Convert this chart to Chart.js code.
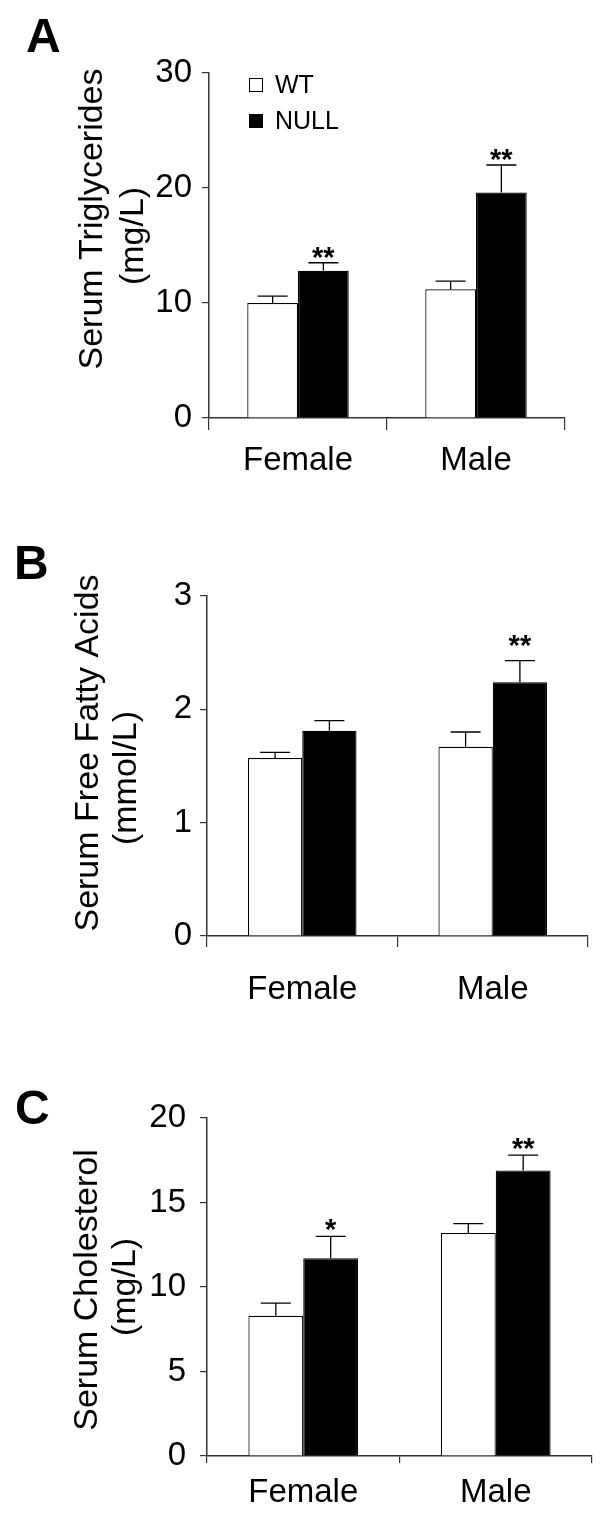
<!DOCTYPE html>
<html><head><meta charset="utf-8">
<script src="https://cdn.jsdelivr.net/npm/chart.js@4/dist/chart.umd.min.js"></script>
<style>
html,body{margin:0;padding:0;background:#fff;}
body{width:606px;height:1532px;position:relative;overflow:hidden;}
canvas{position:absolute;left:0;}
</style></head><body>
<canvas id="cA" width="606" height="500" style="top:0px;width:606px;height:500px"></canvas>
<canvas id="cB" width="606" height="510" style="top:500px;width:606px;height:510px"></canvas>
<canvas id="cC" width="606" height="522" style="top:1010px;width:606px;height:522px"></canvas>
<script>
// ---------- data ----------
const categories = ['Female', 'Male'];
const seriesLabels = ['WT', 'NULL'];

const trigWT = [10.0, 11.2];
const trigNULL = [12.8, 19.6];
const trigWTErr = [0.6, 0.7];
const trigNULLErr = [0.7, 2.4];
const trigWTSig = ['', ''];
const trigNULLSig = ['**', '**'];
const trigTicks = [0, 10, 20, 30];

const ffaWT = [1.57, 1.67];
const ffaNULL = [1.81, 2.24];
const ffaWTErr = [0.05, 0.13];
const ffaNULLErr = [0.09, 0.19];
const ffaWTSig = ['', ''];
const ffaNULLSig = ['', '**'];
const ffaTicks = [0, 1, 2, 3];

const cholWT = [8.3, 13.2];
const cholNULL = [11.7, 16.9];
const cholWTErr = [0.75, 0.55];
const cholNULLErr = [1.3, 0.9];
const cholWTSig = ['', ''];
const cholNULLSig = ['*', '**'];
const cholTicks = [0, 5, 10, 15, 20];

// ---------- drawing ----------
const FAM = '"Liberation Sans", Arial, Helvetica, sans-serif';
const AXIS = '#333';

const decoPlugin = {
  id: 'deco',
  afterDatasetsDraw(chart) {
    const o = chart.options.plugins.deco;
    const ctx = chart.ctx;
    const ys = chart.scales.y;
    ctx.save();
    chart.data.datasets.forEach((ds, di) => {
      const meta = chart.getDatasetMeta(di);
      meta.data.forEach((el, i) => {
        const v = ds.data[i], e = ds.errors[i];
        const yTop = ys.getPixelForValue(v + e);
        ctx.strokeStyle = '#000';
        ctx.lineWidth = 1.3;
        ctx.beginPath();
        ctx.moveTo(el.x, el.y);
        ctx.lineTo(el.x, yTop);
        ctx.moveTo(el.x - 15, yTop);
        ctx.lineTo(el.x + 15, yTop);
        ctx.stroke();
        const s = ds.sig[i];
        if (s) {
          ctx.fillStyle = '#000';
          ctx.font = 'bold 29px ' + FAM;
          ctx.textAlign = 'center';
          ctx.textBaseline = 'alphabetic';
          ctx.fillText(s, el.x, yTop - o.starGap + 13);
        }
      });
    });
    ctx.restore();
  },
  afterDraw(chart) {
    const o = chart.options.plugins.deco;
    const ctx = chart.ctx;
    ctx.save();
    // panel letter
    ctx.fillStyle = '#000';
    ctx.font = 'bold 48px ' + FAM;
    ctx.textAlign = 'left';
    ctx.textBaseline = 'alphabetic';
    ctx.fillText(o.letter, o.letterX, o.letterY);
    // y titles
    ctx.font = '34px ' + FAM;
    ctx.textAlign = 'center';
    o.titles.forEach(t => {
      ctx.save();
      ctx.translate(t.x, t.y);
      ctx.rotate(-Math.PI / 2);
      ctx.fillText(t.text, 0, 0);
      ctx.restore();
    });
    // legend
    if (o.legend) {
      const L = o.legend;
      ctx.font = '25px ' + FAM;
      ctx.textAlign = 'left';
      ctx.textBaseline = 'middle';
      chart.data.datasets.forEach((ds, di) => {
        const cy = L.y + di * L.gap;
        ctx.fillStyle = ds.backgroundColor;
        ctx.fillRect(L.x, cy - 7, 14, 14);
        ctx.strokeStyle = '#000';
        ctx.lineWidth = 1;
        ctx.strokeRect(L.x + 0.5, cy - 6.5, 13, 13);
        ctx.fillStyle = '#000';
        ctx.fillText(ds.label, L.x + 26, cy + 1);
      });
    }
    ctx.restore();
  }
};

function makePanel(id, p) {
  const xh = 70;
  new Chart(document.getElementById(id), {
    type: 'bar',
    data: {
      labels: categories,
      datasets: [
        { label: seriesLabels[0], data: p.wt, errors: p.wtErr, sig: p.wtSig,
          backgroundColor: '#ffffff', borderColor: '#000', borderWidth: 1.2 },
        { label: seriesLabels[1], data: p.nul, errors: p.nulErr, sig: p.nulSig,
          backgroundColor: '#000000', borderColor: '#000', borderWidth: 1.2 }
      ]
    },
    options: {
      responsive: false,
      animation: false,
      devicePixelRatio: 1,
      categoryPercentage: 0.57,
      barPercentage: 1.0,
      layout: { padding: { left: 0, top: p.T, right: 606 - p.R, bottom: p.H - p.B - xh } },
      plugins: {
        legend: { display: false },
        tooltip: { enabled: false },
        deco: p.deco
      },
      scales: {
        x: {
          type: 'category',
          offset: true,
          grid: { display: true, drawOnChartArea: false, drawTicks: true, tickLength: p.xTick,
                  offset: true, color: AXIS, lineWidth: 1.2 },
          border: { display: true, color: AXIS, width: 1.5 },
          ticks: { font: { size: 33, family: FAM }, color: '#000', padding: p.xPad,
                   maxRotation: 0, autoSkip: false },
          afterFit(s) { s.height = xh; }
        },
        y: {
          min: p.ticks[0],
          max: p.ticks[p.ticks.length - 1],
          grid: { display: true, drawOnChartArea: false, tickLength: 7, color: AXIS, lineWidth: 1.2 },
          border: { display: true, color: AXIS, width: 1.5 },
          ticks: { font: { size: 33, family: FAM }, color: '#000', padding: p.yPad },
          afterBuildTicks(s) { s.ticks = p.ticks.map(v => ({ value: v })); },
          afterFit(s) { s.width = p.L; }
        }
      }
    },
    plugins: [decoPlugin]
  });
}

makePanel('cA', {
  wt: trigWT, nul: trigNULL, wtErr: trigWTErr, nulErr: trigNULLErr, wtSig: trigWTSig, nulSig: trigNULLSig,
  ticks: trigTicks, H: 500, L: 209, R: 565, T: 73, B: 418, xTick: 12, xPad: 11, yPad: 10,
  deco: { letter: 'A', letterX: 26, letterY: 52, starGap: 9,
    titles: [{ text: 'Serum Triglycerides', x: 102, y: 219 }, { text: '(mg/L)', x: 143, y: 236 }],
    legend: { x: 249, y: 85, gap: 36 } }
});
makePanel('cB', {
  wt: ffaWT, nul: ffaNULL, wtErr: ffaWTErr, nulErr: ffaNULLErr, wtSig: ffaWTSig, nulSig: ffaNULLSig,
  ticks: ffaTicks, H: 510, L: 207, R: 588, T: 96, B: 436, xTick: 11, xPad: 23, yPad: 8,
  deco: { letter: 'B', letterX: 14, letterY: 79, starGap: 19,
    titles: [{ text: 'Serum Free Fatty Acids', x: 98, y: 253 }, { text: '(mmol/L)', x: 136, y: 278 }],
    legend: null }
});
makePanel('cC', {
  wt: cholWT, nul: cholNULL, wtErr: cholWTErr, nulErr: cholNULLErr, wtSig: cholWTSig, nulSig: cholNULLSig,
  ticks: cholTicks, H: 522, L: 207, R: 592, T: 108, B: 446, xTick: 7, xPad: 10, yPad: 14,
  deco: { letter: 'C', letterX: 15, letterY: 114, starGap: 10,
    titles: [{ text: 'Serum Cholesterol', x: 97, y: 280 }, { text: '(mg/L)', x: 135, y: 277 }],
    legend: null }
});
</script>
</body></html>
